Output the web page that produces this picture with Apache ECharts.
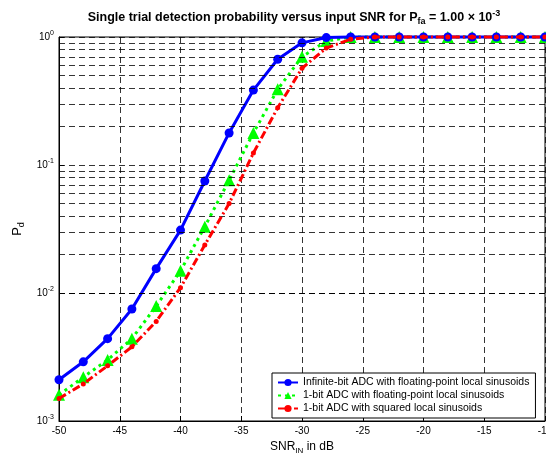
<!DOCTYPE html>
<html>
<head>
<meta charset="utf-8">
<script src="https://cdn.jsdelivr.net/npm/echarts@6/dist/echarts.min.js"></script>
<style>
  html, body { margin: 0; padding: 0; background: #fff; }
  #chart { width: 546px; height: 457px; }
</style>
</head>
<body>
<div id="chart"></div>
<script>
// SNR in dB (x axis)
const snrIn = [-50, -48, -46, -44, -42, -40, -38, -36, -34, -32, -30, -28, -26, -24, -22, -20, -18, -16, -14, -12, -10]
// detection probability
const pdInfinite = [0.0021, 0.0029, 0.0044, 0.0075, 0.0155, 0.031, 0.075, 0.178, 0.385, 0.67, 0.90, 0.99, 1, 1, 1, 1, 1, 1, 1, 1, 1]
const pdOneBitFloat = [0.0016, 0.0022, 0.0030, 0.0044, 0.0079, 0.0149, 0.033, 0.076, 0.178, 0.39, 0.70, 0.93, 1, 1, 1, 1, 1, 1, 1, 1, 1]
const pdOneBitSquared = [0.0015, 0.00195, 0.0027, 0.0038, 0.0060, 0.011, 0.0237, 0.050, 0.124, 0.28, 0.57, 0.82, 0.96, 1, 1, 1, 1, 1, 1, 1, 1]
const seriesNames = [
  'Infinite-bit ADC with floating-point local sinusoids',
  '1-bit ADC with floating-point local sinusoids',
  '1-bit ADC with squared local sinusoids'
]
// minor grid lines of the log axis (2..9 per decade)
const minorGrid = []
for (const decade of [0.001, 0.01, 0.1]) {
  for (let m = 2; m <= 9; m++) minorGrid.push(+(m * decade).toPrecision(3))
}

const chart = echarts.init(document.getElementById('chart'))
const font = 'Liberation Sans, Arial, sans-serif'
const dashed = { color: '#000', type: [6, 4], width: 0.8 }

const option = {
  animation: false,
  textStyle: { fontFamily: font },
  title: {
    text: 'Single trial detection probability versus input SNR for P{sub|fa} = 1.00 \u00d7 10{sup|-3}',
    left: 289,
    textAlign: 'center',
    top: 4,
    textStyle: {
      fontSize: 12.5,
      fontWeight: 'bold',
      color: '#000',
      fontFamily: font,
      rich: {
        sub: { fontSize: 9, fontWeight: 'bold', verticalAlign: 'bottom', padding: [8, 0, 0, 0], fontFamily: font },
        sup: { fontSize: 9, fontWeight: 'bold', verticalAlign: 'top', padding: [0, 0, 8, 0], fontFamily: font }
      }
    }
  },
  grid: {
    left: 59,
    right: 1,
    top: 37,
    bottom: 36,
    outerBoundsMode: 'none',
    containLabel: false,
    show: true,
    borderColor: '#000',
    borderWidth: 1
  },
  legend: {
    data: seriesNames,
    orient: 'vertical',
    left: 272,
    top: 373,
    itemWidth: 20,
    itemHeight: 9,
    itemGap: 2,
    padding: [4, 6, 4, 5],
    backgroundColor: '#fff',
    borderColor: '#000',
    borderWidth: 1,
    textStyle: { fontSize: 10.5, color: '#000', fontFamily: font }
  },
  xAxis: {
    type: 'value',
    min: -50,
    max: -10,
    interval: 5,
    name: 'SNR{sub|IN} in dB',
    nameLocation: 'middle',
    nameGap: 17,
    nameTextStyle: {
      fontSize: 12,
      color: '#000',
      rich: { sub: { fontSize: 8, verticalAlign: 'bottom', padding: [8, 0, 0, 0] } }
    },
    axisLine: { lineStyle: { color: '#000' } },
    axisTick: { inside: true, length: 5, lineStyle: { color: '#000' } },
    axisLabel: { fontSize: 10, color: '#000', margin: 5 },
    splitLine: { show: true, lineStyle: dashed }
  },
  yAxis: {
    type: 'log',
    logBase: 10,
    min: 0.001,
    max: 1,
    name: 'P{sub|d}',
    nameLocation: 'middle',
    nameGap: 32,
    nameTextStyle: {
      fontSize: 13,
      color: '#000',
      rich: { sub: { fontSize: 9, verticalAlign: 'bottom', padding: [8, 0, 0, 0] } }
    },
    axisLine: { lineStyle: { color: '#000' } },
    axisTick: { inside: true, length: 5, lineStyle: { color: '#000' } },
    axisLabel: {
      fontSize: 10,
      color: '#000',
      margin: 5,
      formatter: v => '10{sup|' + Math.round(Math.log10(v)) + '}',
      rich: { sup: { fontSize: 7, verticalAlign: 'top', padding: [0, 0, 7, 0] } }
    },
    splitLine: { show: true, lineStyle: dashed }
  },
  series: [
    {
      name: 'grid',
      type: 'line',
      data: [],
      z: 1,
      silent: true,
      markLine: {
        silent: true,
        symbol: 'none',
        label: { show: false },
        lineStyle: dashed,
        data: minorGrid.map(v => ({ yAxis: v }))
      }
    },
    {
      name: seriesNames[0],
      type: 'line',
      z: 4,
      clip: false,
      data: snrIn.map((x, i) => [x, pdInfinite[i]]),
      color: '#0000ff',
      symbol: 'circle',
      symbolSize: 9,
      lineStyle: { width: 3, color: '#0000ff' },
      itemStyle: { color: '#0000ff' }
    },
    {
      name: seriesNames[1],
      type: 'line',
      z: 3,
      clip: false,
      data: snrIn.map((x, i) => [x, pdOneBitFloat[i]]),
      color: '#00ff00',
      symbol: 'triangle',
      symbolSize: 12,
      lineStyle: { width: 3, color: '#00ff00', type: [3, 4] },
      itemStyle: { color: '#00ff00' }
    },
    {
      name: seriesNames[2],
      type: 'line',
      z: 5,
      clip: false,
      data: snrIn.map((x, i) => [x, pdOneBitSquared[i]]),
      color: '#ff0000',
      symbol: 'circle',
      symbolSize: 5,
      lineStyle: { width: 3, color: '#ff0000', type: [8, 3, 2, 3] },
      itemStyle: { color: '#ff0000' }
    }
  ]
}
chart.setOption(option)
</script>
</body>
</html>
